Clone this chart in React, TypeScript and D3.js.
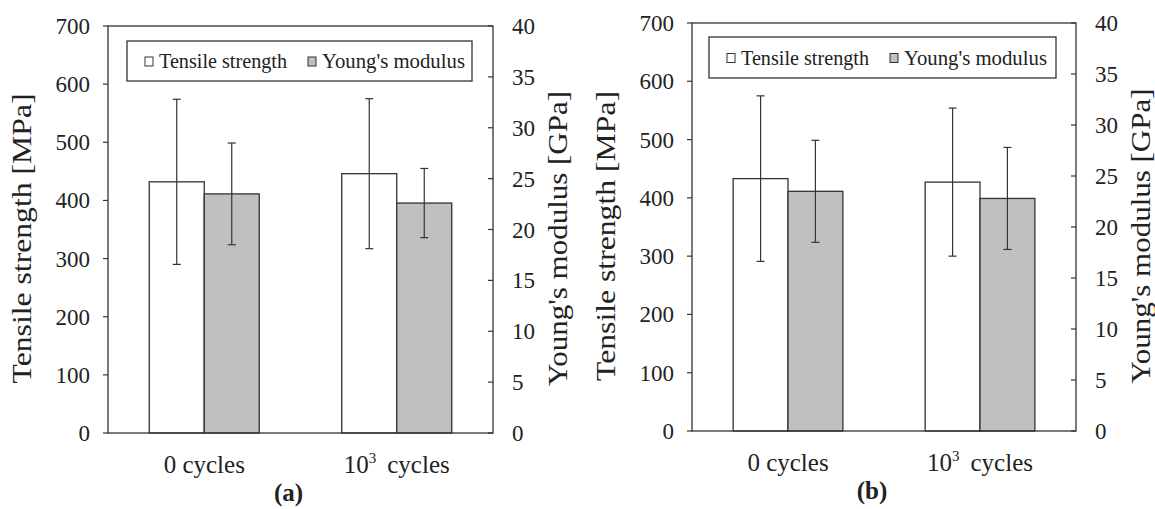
import React from 'react';
import * as d3 from 'd3';

// categories + series
const categories = ['0', '1e3'];
const seriesNames = ['Tensile strength', "Young's modulus"];

const tensileA = [432, 446];
const tensileErrA = [142, 129];
const youngA = [23.5, 22.6];
const youngErrA = [5.0, 3.4];

const tensileB = [433, 427];
const tensileErrB = [142, 127];
const youngB = [23.5, 22.8];
const youngErrB = [5.0, 5.0];

const leftTicks = [0, 100, 200, 300, 400, 500, 600, 700];
const rightTicks = [0, 5, 10, 15, 20, 25, 30, 35, 40];

const FONT = '"Liberation Serif", "Times New Roman", serif';
const LINE = '#333';

interface PanelProps {
  left: number;
  right: number;
  top: number;
  bottom: number;
  tag: string;
  tensile: number[];
  tensileErr: number[];
  young: number[];
  youngErr: number[];
  legendBox: [number, number, number, number];
}

const Panel: React.FC<PanelProps> = ({ left, right, top, bottom, tag, tensile, tensileErr, young, youngErr, legendBox }) => {
  const x = d3.scaleBand<string>().domain(categories).range([left, right]).paddingInner(0.4286).paddingOuter(0.2143);
  const xs = d3.scaleBand<string>().domain(seriesNames).range([0, x.bandwidth()]);
  const yL = d3.scaleLinear().domain([0, 700]).range([bottom, top]);
  const yR = d3.scaleLinear().domain([0, 40]).range([bottom, top]);

  const bars = categories.flatMap((c, i) => [
    { c, s: seriesNames[0], y0: yL(0), y1: yL(tensile[i]), e0: yL(tensile[i] - tensileErr[i]), e1: yL(tensile[i] + tensileErr[i]), fill: '#fff' },
    { c, s: seriesNames[1], y0: yR(0), y1: yR(young[i]), e0: yR(young[i] - youngErr[i]), e1: yR(young[i] + youngErr[i]), fill: '#c0c0c0' },
  ]);

  const midY = (top + bottom) / 2 + 9;
  const [lx, ly, lw, lh] = legendBox;

  return (
    <g fontFamily={FONT} fill="#222">
      {/* bars */}
      {bars.map((b, i) => {
        const bx = (x(b.c) || 0) + (xs(b.s) || 0);
        return (
          <rect key={i} x={bx} y={b.y1} width={xs.bandwidth()} height={b.y0 - b.y1}
            fill={b.fill} stroke={LINE} strokeWidth={1.3} />
        );
      })}
      {/* error bars */}
      {bars.map((b, i) => {
        const cx = (x(b.c) || 0) + (xs(b.s) || 0) + xs.bandwidth() / 2;
        return (
          <g key={'e' + i} stroke={LINE} strokeWidth={1.2}>
            <line x1={cx} x2={cx} y1={b.e0} y2={b.e1} />
            <line x1={cx - 4} x2={cx + 4} y1={b.e0} y2={b.e0} />
            <line x1={cx - 4} x2={cx + 4} y1={b.e1} y2={b.e1} />
          </g>
        );
      })}
      {/* frame */}
      <rect x={left} y={top} width={right - left} height={bottom - top} fill="none" stroke={LINE} strokeWidth={1.3} />
      {/* left axis */}
      {leftTicks.map(t => (
        <g key={'l' + t}>
          <line x1={left - 5} x2={left} y1={yL(t)} y2={yL(t)} stroke={LINE} strokeWidth={1.2} />
          <text x={left - 18} y={yL(t)} dy="0.35em" textAnchor="end" fontSize={23}>{t}</text>
        </g>
      ))}
      {/* right axis */}
      {rightTicks.map(t => (
        <g key={'r' + t}>
          <line x1={right - 5} x2={right} y1={yR(t)} y2={yR(t)} stroke={LINE} strokeWidth={1.2} />
          <text x={right + 19} y={yR(t)} dy="0.35em" textAnchor="start" fontSize={23}>{t}</text>
        </g>
      ))}
      {/* axis titles */}
      <text transform={`translate(${left - 77},${midY}) rotate(-90)`} textAnchor="middle" fontSize={27}
        textLength={290} lengthAdjust="spacingAndGlyphs">
        Tensile strength [MPa]
      </text>
      <text transform={`translate(${right + 74},${midY}) rotate(-90)`} textAnchor="middle" fontSize={27}
        textLength={295} lengthAdjust="spacingAndGlyphs">
        Young's modulus [GPa]
      </text>
      {/* category labels */}
      <text x={(x('0') || 0) + x.bandwidth() / 2} y={bottom + 40} textAnchor="middle" fontSize={25}>0 cycles</text>
      <text x={(x('1e3') || 0) + x.bandwidth() / 2} y={bottom + 40} textAnchor="middle" fontSize={25}>
        10<tspan fontSize={15} dy={-10}>3</tspan><tspan dy={10} dx={11}>cycles</tspan>
      </text>
      {/* panel tag */}
      <text x={(left + right) / 2 - 12} y={bottom + 68} textAnchor="middle" fontSize={25} fontWeight="bold">({tag})</text>
      {/* legend */}
      <rect x={lx} y={ly} width={lw} height={lh} fill="#fff" stroke={LINE} strokeWidth={1.3} />
      <rect x={lx + 18} y={ly + lh / 2 - 4} width={8} height={9} fill="#fff" stroke={LINE} strokeWidth={1} />
      <text x={lx + 32} y={ly + lh / 2} dy="0.35em" fontSize={21} textLength={128} lengthAdjust="spacingAndGlyphs">Tensile strength</text>
      <rect x={lx + 181} y={ly + lh / 2 - 4} width={8} height={9} fill="#c0c0c0" stroke={LINE} strokeWidth={1} />
      <text x={lx + 195} y={ly + lh / 2} dy="0.35em" fontSize={21} textLength={143} lengthAdjust="spacingAndGlyphs">Young's modulus</text>
    </g>
  );
};

export default function App() {
  return (
    <svg width={1155} height={509} style={{ position: 'absolute', left: 0, top: 0, background: '#fff' }}>
      <Panel left={108} right={493} top={26} bottom={433} tag="a"
        tensile={tensileA} tensileErr={tensileErrA} young={youngA} youngErr={youngErrA}
        legendBox={[127, 41, 345, 40]} />
      <Panel left={692} right={1076} top={23} bottom={431} tag="b"
        tensile={tensileB} tensileErr={tensileErrB} young={youngB} youngErr={youngErrB}
        legendBox={[709, 37, 347, 41]} />
    </svg>
  );
}
